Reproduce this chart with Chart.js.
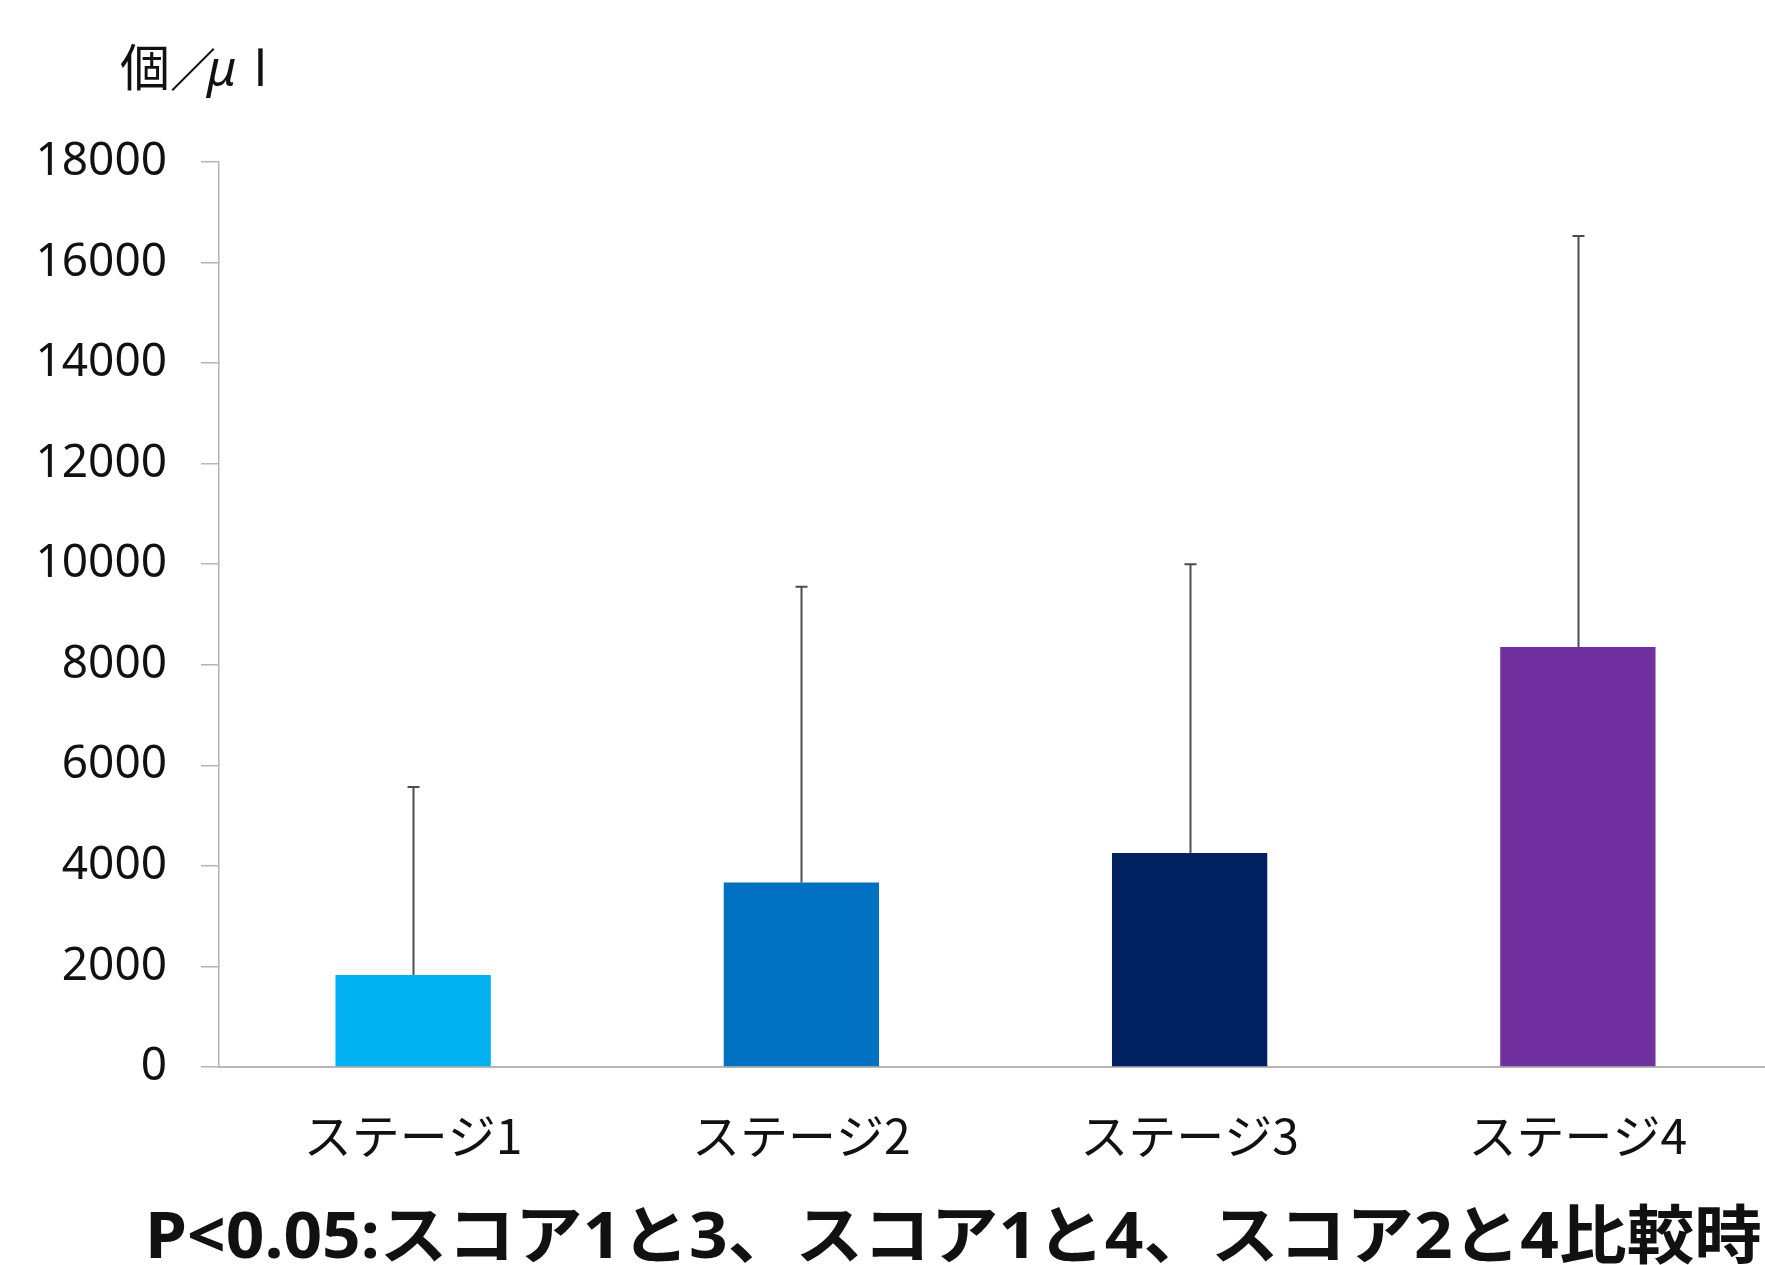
<!DOCTYPE html>
<html>
<head>
<meta charset="utf-8">
<script src="https://cdn.jsdelivr.net/npm/chart.js@4.4.1/dist/chart.umd.min.js"></script>
<style>
  html, body { margin: 0; padding: 0; overflow: hidden; background: #fff; }
  canvas { display: block; }
</style>
</head>
<body>
<canvas id="c" width="1772" height="1265"></canvas>
<script>
// ---- data ----
const categories = ['ステージ1', 'ステージ2', 'ステージ3', 'ステージ4'];
const meanValues = [1830, 3670, 4255, 8355];
const sdValues = [3740, 5880, 5745, 8175];
const barColors = ['#00B0F0', '#0070C0', '#002060', '#7030A0'];
const yMin = 0, yMax = 18000, yStep = 2000;
const unitLabel = ['個', '／', 'μ', 'l'];
const noteText = 'P<0.05:スコア1と3、スコア1と4、スコア2と4比較時';

const FONT = '"Noto Sans", "Noto Sans CJK JP", sans-serif';
const CJK = '"Noto Sans CJK JP", "Noto Sans", sans-serif';

const errorBars = {
  id: 'errorBars',
  afterDatasetsDraw(chart) {
    const meta = chart.getDatasetMeta(0);
    const ys = chart.scales.y;
    const ctx = chart.ctx;
    ctx.save();
    ctx.strokeStyle = '#4d4d4d';
    ctx.lineWidth = 2;
    meta.data.forEach((bar, i) => {
      const x = Math.round(bar.x) + 0.5;
      const yb = ys.getPixelForValue(meanValues[i]);
      const yt = ys.getPixelForValue(meanValues[i] + sdValues[i]);
      ctx.beginPath();
      ctx.moveTo(x, yb);
      ctx.lineTo(x, yt);
      ctx.moveTo(x - 6, yt);
      ctx.lineTo(x + 6, yt);
      ctx.stroke();
    });
    ctx.restore();
  }
};

const texts = {
  id: 'texts',
  afterDraw(chart) {
    const ctx = chart.ctx;
    ctx.save();
    ctx.fillStyle = '#111';
    ctx.textBaseline = 'alphabetic';
    // unit label
    const ux = [120, 170, 207, 254];
    const uf = ['50px ' + CJK, '46px ' + CJK, 'italic 50px ' + FONT, '50px ' + FONT];
    unitLabel.forEach((t, i) => { ctx.font = uf[i]; ctx.fillText(t, ux[i], 86); });
    // bottom note
    ctx.font = 'bold 64px ' + FONT;
    const w = ctx.measureText(noteText).width;
    const target = 1617;
    ctx.translate(145, 1258);
    ctx.scale(target / w, 1);
    ctx.fillText(noteText, 0, 0);
    ctx.restore();
  }
};

new Chart(document.getElementById('c'), {
  type: 'bar',
  data: {
    labels: categories,
    datasets: [{
      data: meanValues,
      backgroundColor: barColors,
      borderWidth: 0,
      barPercentage: 0.4,
      categoryPercentage: 1.0
    }]
  },
  options: {
    responsive: false,
    animation: false,
    layout: { padding: { top: 162, left: 0, right: 0, bottom: 0 } },
    plugins: { legend: { display: false }, tooltip: { enabled: false }, title: { display: false } },
    scales: {
      x: {
        afterFit(s) { s.height = 198; },
        grid: { display: false, drawTicks: false },
        border: { display: true, color: '#b5b5b5', width: 2 },
        ticks: {
          color: '#111',
          padding: 40,
          font: { family: CJK, size: 48 },
          maxRotation: 0
        }
      },
      y: {
        min: yMin, max: yMax,
        afterFit(s) { s.width = 219; },
        grid: { display: true, drawOnChartArea: false, drawTicks: true, tickLength: 18, color: '#b5b5b5', lineWidth: 1.5 },
        border: { display: true, color: '#b5b5b5', width: 1.5 },
        ticks: {
          stepSize: yStep,
          color: '#111',
          padding: 34,
          font: { family: FONT, size: 46 },
          callback: (v) => String(v)
        }
      }
    }
  },
  plugins: [errorBars, texts]
});
</script>
</body>
</html>
